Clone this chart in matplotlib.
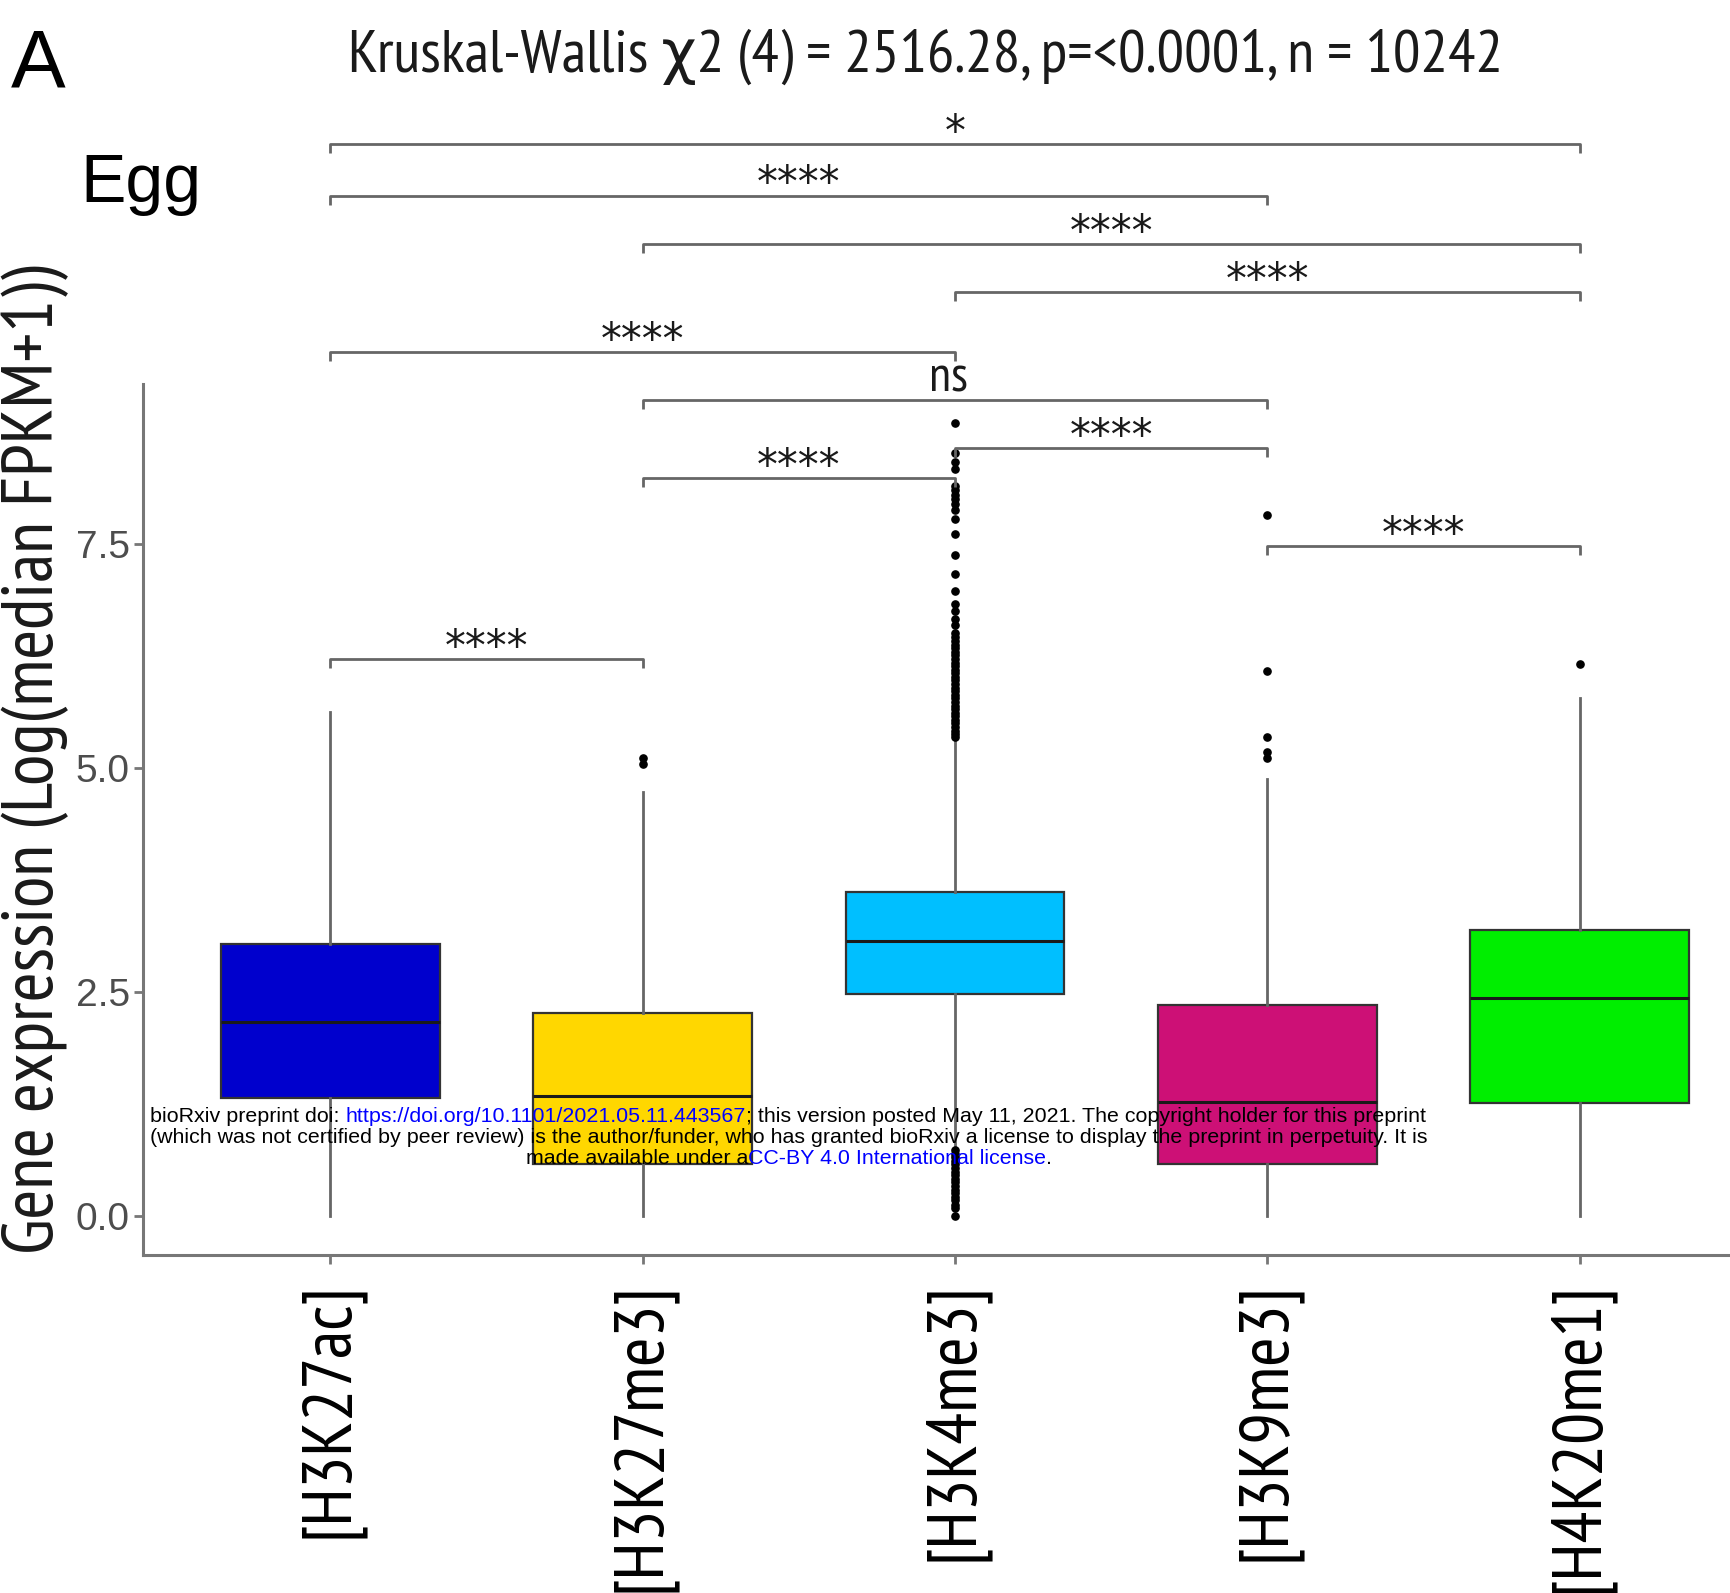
import matplotlib
matplotlib.use("Agg")
import matplotlib.pyplot as plt
import numpy as np

# ============================================================
# Data
# ============================================================
marks = ['[H3K27ac]', '[H3K27me3]', '[H3K4me3]', '[H3K9me3]', '[H4K20me1]']
colors = ['#0000CD', '#FFD700', '#00BFFF', '#CD1076', '#00EE00']

q1 = [1.32, 0.58, 2.48, 0.59, 1.27]
med = [2.17, 1.34, 3.07, 1.28, 2.44]
q3 = [3.04, 2.27, 3.62, 2.36, 3.20]
whislo = [0.0, 0.0, 0.77, 0.0, 0.0]
whishi = [5.63, 4.73, 5.33, 4.88, 5.78]

out_k27ac = []
out_k27me3 = [5.11, 5.05]
out_k4me3 = [8.85, 8.52, 8.42, 8.34, 8.15, 8.10, 8.05, 8.00, 7.95, 7.88, 7.78,
             7.61, 7.38, 7.17, 6.98, 6.83, 6.76, 6.67, 6.60, 6.51, 6.46, 6.42,
             6.38, 6.34, 6.30, 6.26, 6.22, 6.18, 6.14, 6.10, 6.06, 6.02, 5.98,
             5.94, 5.90, 5.86, 5.82, 5.78, 5.74, 5.70, 5.66, 5.62, 5.58, 5.54,
             5.50, 5.46, 5.42, 5.38, 5.35,
             0.74, 0.70, 0.66, 0.62, 0.58, 0.54, 0.50, 0.46, 0.42, 0.38, 0.34,
             0.30, 0.26, 0.22, 0.18, 0.13, 0.09, 0.0]
out_k9me3 = [7.83, 6.08, 5.35, 5.18, 5.11]
out_h4k20 = [6.16]
outliers = [out_k27ac, out_k27me3, out_k4me3, out_k9me3, out_h4k20]

# pairwise comparisons: (group a, group b, bracket height, label)
comp_a = [1, 2, 3, 4, 2, 1, 3, 2, 1, 1]
comp_b = [2, 3, 4, 5, 4, 3, 5, 5, 4, 5]
comp_y = [6.22, 8.24, 8.57, 7.48, 9.11, 9.64, 10.31, 10.85, 11.39, 11.96]
comp_lab = ['****', '****', '****', '****', 'ns', '****', '****', '****', '****', '*']

NARROW = ['PT Sans Narrow', 'DejaVu Sans']

# ============================================================
# Figure
# ============================================================
fig = plt.figure(figsize=(17.31, 15.93), dpi=100)
ax = fig.add_axes([0.0826, 0.2122, 1 - 0.0826, 0.7331])

x = np.arange(1, len(marks) + 1)
stats = []
for i in range(len(marks)):
    stats.append({'med': med[i], 'q1': q1[i], 'q3': q3[i],
                  'whislo': whislo[i], 'whishi': whishi[i],
                  'fliers': outliers[i]})

bp = ax.bxp(stats, positions=x, widths=0.7, patch_artist=True,
            showcaps=False,
            boxprops=dict(edgecolor='#333333', linewidth=1.6),
            medianprops=dict(color='#1a1a1a', linewidth=2.2),
            whiskerprops=dict(color='#666666', linewidth=2.0),
            flierprops=dict(marker='o', markerfacecolor='black',
                            markeredgecolor='black', markersize=5.2,
                            linestyle='none'))
for patch, c in zip(bp['boxes'], colors):
    patch.set_facecolor(c)

ax.set_xlim(0.4, 5.484)
ax.set_ylim(-0.43, 12.6)
ax.set_yticks([0.0, 2.5, 5.0, 7.5])
ax.set_yticklabels(['0.0', '2.5', '5.0', '7.5'],
                   fontfamily='Liberation Sans', fontsize=28, color='#4d4d4d')
ax.set_xticks(x)
ax.set_xticklabels(marks, rotation=90, ha='center', va='top',
                   fontfamily=NARROW, fontsize=51, color='black')

for s in ['top', 'right']:
    ax.spines[s].set_visible(False)
ax.spines['left'].set_bounds(-0.43, 9.29)
ax.spines['left'].set_color('#777777')
ax.spines['bottom'].set_color('#777777')
ax.spines['left'].set_linewidth(2.2)
ax.spines['bottom'].set_linewidth(2.2)
ax.tick_params(axis='both', length=6.5, width=2.0, color='#777777')
ax.tick_params(axis='y', pad=3)
ax.tick_params(axis='x', pad=13)

# significance brackets
tip = 0.1
for a, b, y, lab in zip(comp_a, comp_b, comp_y, comp_lab):
    ax.plot([a, a, b, b], [y - tip, y, y, y - tip], color='#666666',
            linewidth=2.0, clip_on=False, solid_capstyle='butt')
    if lab == 'ns':
        ax.text((a + b) / 2 - 0.02, y + 0.09, lab, ha='center', va='baseline',
                fontfamily=NARROW, fontsize=36, color='#1a1a1a')
    else:
        ax.text((a + b) / 2, y - 0.01, lab, ha='center', va='baseline',
                fontfamily='DejaVu Sans', fontsize=30, color='#1a1a1a')

# titles and labels
fig.text(0.5345, 0.9549, 'Kruskal-Wallis \u03c72 (4) = 2516.28, p=<0.0001, n = 10242',
         ha='center', va='baseline', fontfamily=NARROW,
         fontsize=44, color='#1a1a1a')
fig.text(0.0064, 0.946, 'A', ha='left', va='baseline',
         fontfamily='Liberation Sans', fontsize=59)
fig.text(0.0466, 0.873, 'Egg', ha='left', va='baseline',
         fontfamily='Liberation Sans', fontsize=49)
fig.text(0.0204, 0.523, 'Gene expression (Log(median FPKM+1))', rotation=90,
         ha='center', va='center', fontfamily=NARROW,
         fontsize=52, color='#1a1a1a')


# bioRxiv notice, drawn as chained coloured pieces
def notice_line(xf, yf, parts, size=15.4):
    t = fig.text(xf, yf, parts[0][0], color=parts[0][1], ha='left',
                 va='baseline', fontfamily='Liberation Sans', fontsize=size,
                 zorder=10)
    for txt, col in parts[1:]:
        t = ax.annotate(txt, xy=(1, 0), xycoords=t, ha='left', va='bottom',
                        color=col, fontfamily='Liberation Sans', fontsize=size,
                        annotation_clip=False, zorder=10)


notice_line(0.0867, 0.2959, [
    ('bioRxiv preprint doi: ', 'black'),
    ('https://doi.org/10.1101/2021.05.11.443567', '#0000FF'),
    ('; this version posted May 11, 2021. The copyright holder for this preprint', 'black')])
notice_line(0.0867, 0.2827, [
    ('(which was not certified by peer review) is the author/funder, who has granted '
     'bioRxiv a license to display the preprint in perpetuity. It is', 'black')])
notice_line(0.3036, 0.2695, [
    ('made available under a', 'black'),
    ('CC-BY 4.0 International license', '#0000FF'),
    ('.', 'black')])

plt.savefig('out.png', dpi=100)
